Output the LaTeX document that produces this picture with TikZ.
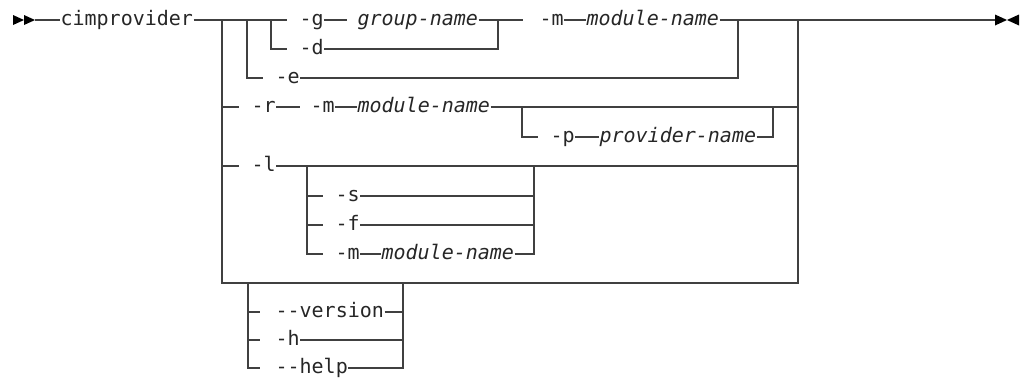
\documentclass[tikz,border=0pt]{standalone}
\usepackage{fontspec}
\setmonofont[ItalicFont={DejaVu Sans Mono Oblique}]{DejaVu Sans Mono}
\usepackage{tikz}
\tikzstyle{kw} =
[
	anchor=west,inner sep=0pt,text height=8.2pt,text depth=0pt,
	font=\fontsize{15}{18}\selectfont\ttfamily, text=black!85
]
\tikzstyle{var} =
[
	kw, font=\fontsize{15}{18}\selectfont\ttfamily\itshape
]

\begin{document}
\begin{tikzpicture}[x=0.75pt,y=-0.75pt,line width=0.85pt,color=black!75]
\useasboundingbox (0,0) rectangle (1022,379);

% start and end marks
\fill[black] (13,15) -- (24,20) -- (13,25) -- cycle;
\fill[black] (24,15) -- (35,20) -- (24,25) -- cycle;
\fill[black] (995,14.5) -- (1007,20) -- (995,25.5) -- cycle;
\fill[black] (1019,14.5) -- (1007,20) -- (1019,25.5) -- cycle;
\coordinate (S) at (35,20);
\coordinate (E) at (995,20);

% junctions
\coordinate (A0) at (222,20);
\coordinate (A1) at (247,20);
\coordinate (A2) at (271,20);
\coordinate (B2) at (498,20);
\coordinate (B1) at (738,20);
\coordinate (B0) at (798,20);

% main line
\node[kw] (C0) at (60,20) {cimprovider};
\node[kw] (G1) at (299,20) {-g};
\node[var] (G2) at (357,20) {group-name};
\node[kw] (M1) at (539,20) {-m};
\node[var] (N1) at (586,20) {module-name};

\draw (S) -- (C0.west);
\draw (C0.east) -- (A2) -- (287,20);
\draw (G1.east) -- (347,20);
\draw (G2.east) -- (B2) -- (523,20);
\draw (M1.east) -- (N1.west);
\draw (N1.east) -- (B1) -- (B0) -- (E);

% -d and -e
\node[kw] (D1) at (299,49) {-d};
\node[kw] (E1) at (275,78) {-e};
\draw (A2) |- (287,49);
\draw (D1.east) -| (B2);
\draw (A1) |- (263,78);
\draw (E1.east) -| (B1);

% -r
\coordinate (C1) at (522,107);
\coordinate (C2) at (773,107);
\node[kw] (R1) at (251,107) {-r};
\node[kw] (M2) at (310,107) {-m};
\node[var] (N2) at (357,107) {module-name};
\node[kw] (P1) at (550,137) {-p};
\node[var] (P2) at (599,137) {provider-name};
\draw (A0) |- (239,107);
\draw (R1.east) -- (300,107);
\draw (M2.east) -- (N2.west);
\draw (N2.east) -- (C1) -- (C2) -- (798,107);
\draw (C1) |- (538,137);
\draw (P1.east) -- (P2.west);
\draw (P2.east) -| (C2);

% -l
\coordinate (D1) at (307,166);
\coordinate (D2) at (534,166);
\node[kw] (L1) at (251,166) {-l};
\node[kw] (L2) at (335,196) {-s};
\node[kw] (L3) at (335,225) {-f};
\node[kw] (M3) at (335,254) {-m};
\node[var] (N3) at (381,254) {module-name};
\draw (A0) |- (239,166);
\draw (L1.east) -- (D1) -- (D2) -- (798,166);
\draw (D1) |- (323,196);
\draw (D1) |- (323,225);
\draw (D1) |- (323,254);
\draw (L2.east) -| (D2);
\draw (L3.east) -| (D2);
\draw (M3.east) -- (N3.west);
\draw (N3.east) -| (D2);

% outer box
\draw (A0) |- (798,283) -- (B0);

% version and help
\coordinate (F1) at (248,283);
\coordinate (F2) at (403,283);
\node[kw] (V1) at (275,312) {--version};
\node[kw] (H1) at (275,340) {-h};
\node[kw] (H2) at (275,368) {--help};
\draw (F1) |- (260,312);
\draw (F1) |- (260,340);
\draw (F1) |- (260,368);
\draw (V1.east) -| (F2);
\draw (H1.east) -| (F2);
\draw (H2.east) -| (F2);

\end{tikzpicture}
\end{document}
